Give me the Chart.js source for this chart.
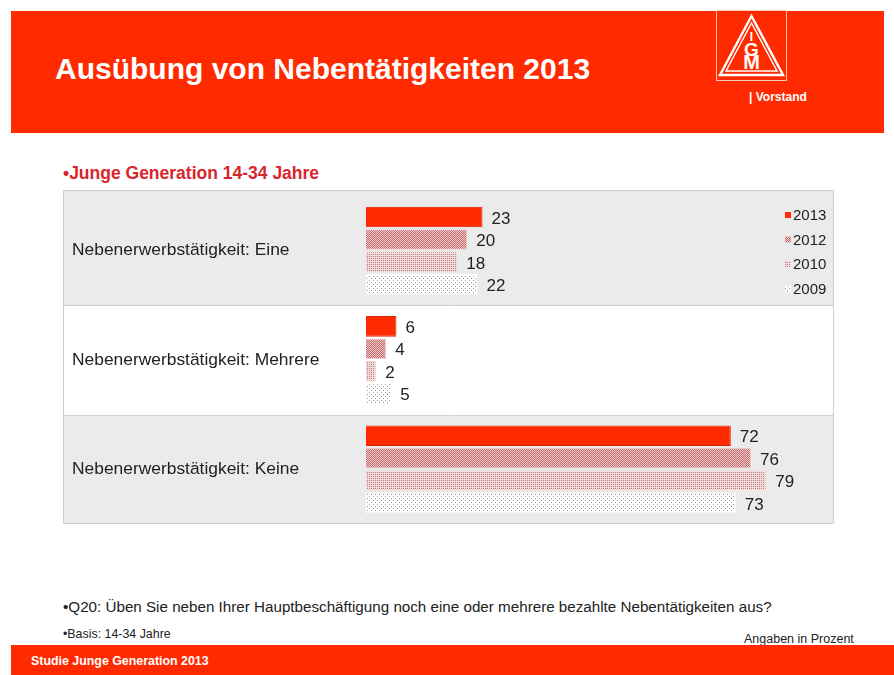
<!DOCTYPE html>
<html>
<head>
<meta charset="utf-8">
<script src="https://cdn.jsdelivr.net/npm/chart.js@4/dist/chart.umd.min.js"></script>
<style>
  body { margin: 0; width: 894px; height: 675px; background: #fff; position: relative; overflow: hidden; font-family: "Liberation Sans", Arial, sans-serif; }
  .header { position: absolute; left: 11px; top: 11px; width: 873px; height: 122px; background: #ff2a00; }
  .title { position: absolute; left: 44px; top: 41px; color: #fff; font-weight: bold; font-size: 30px; }
  .logo { position: absolute; left: 705px; top: -1px; }
  .vorstand { position: absolute; left: 738px; top: 79px; color: #fff; font-weight: bold; font-size: 12px; }
  .subtitle { position: absolute; left: 63px; top: 163px; color: #d8262c; font-weight: bold; font-size: 17.5px; }
  #chart-wrap { position: absolute; left: 63px; top: 190px; width: 771px; height: 334px; }
  .note { position: absolute; color: #222; }
  .footer { position: absolute; left: 11px; top: 645px; width: 883px; height: 30px; background: #ff2a00; }
  .footer span { position: absolute; left: 20px; top: 9px; color: #fff; font-weight: bold; font-size: 12.4px; }
</style>
</head>
<body>
<div class="header">
  <div class="title">Ausübung von Nebentätigkeiten 2013</div>
  <svg class="logo" width="71" height="71" viewBox="0 0 71 71">
    <rect x="0.5" y="0.5" width="70" height="70" fill="#ff2a00" stroke="#ffc8b8" stroke-width="1"/>
    <polygon points="35.5,6 67,65 4,65" fill="none" stroke="#fff" stroke-width="2.4"/>
    <polygon points="35.5,13 61,61 10,61" fill="none" stroke="#fff" stroke-width="1.4"/>
    <text x="35.5" y="31" fill="#fff" font-size="12" font-weight="bold" text-anchor="middle">I</text>
    <text x="35.5" y="46" fill="#fff" font-size="19" font-weight="bold" text-anchor="middle">G</text>
    <text x="35.5" y="59" fill="#fff" font-size="20" font-weight="bold" text-anchor="middle">M</text>
  </svg>
  <div class="vorstand">| Vorstand</div>
</div>
<div class="subtitle">•Junge Generation 14-34 Jahre</div>
<div id="chart-wrap"><canvas id="chart" width="771" height="334"></canvas></div>
<div class="note" style="left:63px; top:598px; font-size:15.2px;">•Q20: Üben Sie neben Ihrer Hauptbeschäftigung noch eine oder mehrere bezahlte Nebentätigkeiten aus?</div>
<div class="note" style="left:63px; top:627px; font-size:12.4px;">•Basis: 14-34 Jahre</div>
<div class="note" style="left:744px; top:632px; font-size:12.5px;">Angaben in Prozent</div>
<div class="footer"><span>Studie Junge Generation 2013</span></div>

<script>
const categories = ["Nebenerwerbstätigkeit: Eine", "Nebenerwerbstätigkeit: Mehrere", "Nebenerwerbstätigkeit: Keine"];
const years = ["2013", "2012", "2010", "2009"];
const values_2013 = [23, 6, 72];
const values_2012 = [20, 4, 76];
const values_2010 = [18, 2, 79];
const values_2009 = [22, 5, 73];

// small tiles -> canvas patterns for the older years
function makePattern(size, bg, dots, dotColour) {
  const c = document.createElement("canvas");
  c.width = size; c.height = size;
  const g = c.getContext("2d");
  g.fillStyle = bg;
  g.fillRect(0, 0, size, size);
  g.fillStyle = dotColour;
  dots.forEach(d => g.fillRect(d[0], d[1], 1, 1));
  return g.createPattern(c, "repeat");
}

const fill_2013 = "#ff2a00";
const fill_2012 = makePattern(2, "#efcaca", [[0, 0], [1, 1]], "#c46a6a");
const fill_2010 = makePattern(2, "#f3dddd", [[0, 0]], "#c07878");
const fill_2009 = makePattern(4, "#ffffff", [[0, 0], [2, 2]], "#9a9a9a");
const fills = [fill_2013, fill_2012, fill_2010, fill_2009];
const borders = ["#d9260a", "#f2d0d0", "#f2dede", "#ffffff"];

const all_values = [values_2013, values_2012, values_2010, values_2009];
const datasets = years.map((y, i) => ({
  label: y,
  data: all_values[i],
  backgroundColor: fills[i],
  borderColor: borders[i],
  borderWidth: 1,
  barPercentage: 0.92,
  categoryPercentage: 0.82
}));

// grey / white row bands with grey lines
const rowBands = {
  id: "rowBands",
  beforeDraw(chart) {
    const { ctx, scales: { y }, chartArea, width } = chart;
    const n = categories.length;
    const edges = [0.5];
    for (let i = 1; i < n; i++) {
      edges.push(Math.round((y.getPixelForValue(i - 1) + y.getPixelForValue(i)) / 2) + 0.5);
    }
    edges.push(chartArea.bottom - 0.5);
    ctx.save();
    for (let i = 0; i < n; i++) {
      ctx.fillStyle = i % 2 === 0 ? "#ebebeb" : "#ffffff";
      ctx.fillRect(0.5, edges[i], width - 1, edges[i + 1] - edges[i]);
    }
    ctx.strokeStyle = "#cfcfcf";
    ctx.lineWidth = 1;
    ctx.strokeRect(0.5, edges[0], width - 1, edges[n] - edges[0]);
    for (let i = 1; i < n; i++) {
      ctx.beginPath();
      ctx.moveTo(0.5, edges[i]);
      ctx.lineTo(width - 0.5, edges[i]);
      ctx.stroke();
    }
    ctx.restore();
  }
};

// value labels next to bar ends + the little legend at top right
const valueLabels = {
  id: "valueLabels",
  afterDatasetsDraw(chart) {
    const { ctx, chartArea } = chart;
    ctx.save();
    ctx.font = "17px 'Liberation Sans', Arial, sans-serif";
    ctx.fillStyle = "#222";
    ctx.textBaseline = "middle";
    ctx.textAlign = "left";
    chart.data.datasets.forEach((ds, di) => {
      chart.getDatasetMeta(di).data.forEach((bar, i) => {
        ctx.fillText(ds.data[i], bar.x + 9, bar.y + 2);
      });
    });

    ctx.font = "15px 'Liberation Sans', Arial, sans-serif";
    chart.data.datasets.forEach((ds, di) => {
      const ly = chartArea.top + 19 + di * 24.5;
      const lx = 722;
      ctx.fillStyle = ds.backgroundColor;
      ctx.fillRect(lx, ly - 3, 6, 6);
      ctx.fillStyle = "#222";
      ctx.fillText(ds.label, lx + 8, ly + 1);
    });
    ctx.restore();
  }
};

const chart = new Chart(document.getElementById("chart").getContext("2d"), {
  type: "bar",
  data: { labels: categories, datasets: datasets },
  options: {
    indexAxis: "y",
    responsive: false,
    animation: false,
    layout: { padding: { left: 9, right: 12, top: 6, bottom: 0 } },
    scales: {
      x: { min: 0, max: 90, display: false },
      y: {
        grid: { display: false },
        border: { display: false },
        afterFit: (scale) => {
          scale.width = 294;
          scale.paddingTop = 0;     // no half-label padding above/below the rows
          scale.paddingBottom = 0;
        },
        ticks: {
          crossAlign: "far",
          color: "#222",
          font: { size: 17.4, family: "'Liberation Sans', Arial, sans-serif" }
        }
      }
    },
    plugins: {
      legend: { display: false },
      tooltip: { enabled: false }
    }
  },
  plugins: [rowBands, valueLabels]
});
</script>
</body>
</html>
